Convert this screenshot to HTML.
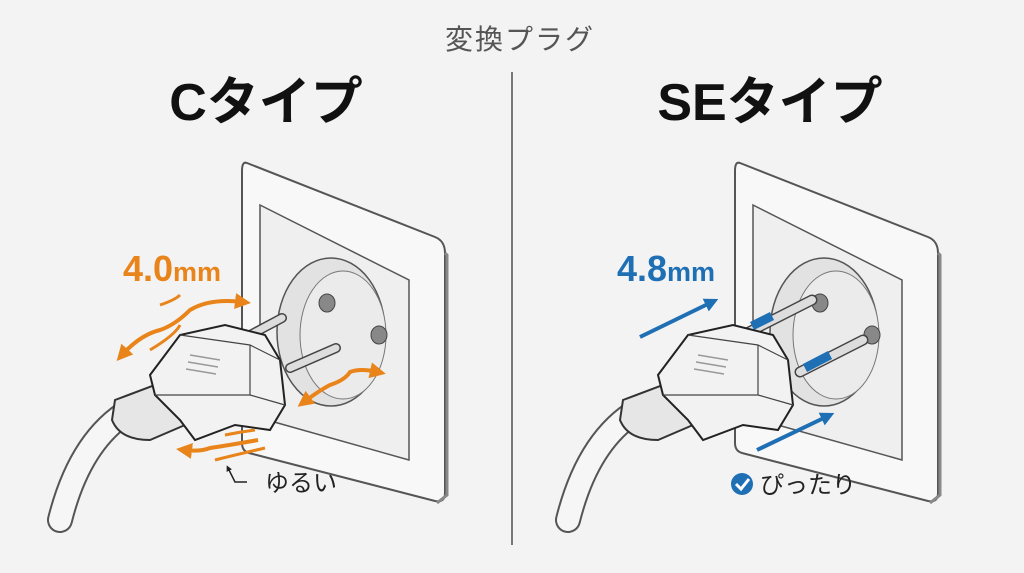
<!DOCTYPE html>
<html><head><meta charset="utf-8"><style>
html,body{margin:0;padding:0;background:#f3f3f3;}
svg{display:block}
text{font-family:"Liberation Sans","Noto Sans CJK JP",sans-serif;}
</style></head><body>
<svg width="1024" height="573" viewBox="0 0 1024 573" xmlns="http://www.w3.org/2000/svg">
<defs>
<marker id="ao" viewBox="0 0 10 10" refX="5" refY="5" markerWidth="4" markerHeight="4" orient="auto-start-reverse"><path d="M0,0L10,5L0,10z" fill="#e8841a"/></marker>
<marker id="ab" viewBox="0 0 10 10" refX="5" refY="5" markerWidth="3.5" markerHeight="3.5" orient="auto"><path d="M0,0L10,5L0,10z" fill="#1f6fb5"/></marker>
<marker id="ak" viewBox="0 0 10 10" refX="5" refY="5" markerWidth="4" markerHeight="4" orient="auto"><path d="M0,0L10,5L0,10z" fill="#222"/></marker>
<g id="socket">
<path d="M0,0 L188,74 Q198,78 198,90 L198,330 Q198,340 188,338 L2,290 Q-5,288 -5,280 L-5,8 Q-5,-2 0,0z" fill="#f8f8f8" stroke="#555" stroke-width="2"/>
<path d="M198,90 L200,92 L200,332 L190,340" fill="none" stroke="#888" stroke-width="3"/>
<path d="M13,42 L162,117 L162,297 L13,255z" fill="#efefef" stroke="#555" stroke-width="1.5"/>
<ellipse cx="84" cy="169" rx="54" ry="74" fill="#e2e2e2" stroke="#555" stroke-width="1.5"/>
<ellipse cx="96" cy="172" rx="43" ry="64" fill="#ebebeb" stroke="#777" stroke-width="1"/>
<ellipse cx="80" cy="140" rx="8" ry="9" fill="#888" stroke="#444"/>
<ellipse cx="132" cy="172" rx="8" ry="9" fill="#888" stroke="#444"/>
</g>
<g id="plug">
<path d="M-80,370 Q-60,290 -10,260" fill="none" stroke="#555" stroke-width="26" stroke-linecap="round"/>
<path d="M-80,370 Q-60,290 -10,260" fill="none" stroke="#f6f6f6" stroke-width="22" stroke-linecap="round"/>
<path d="M-25,250 L15,235 L45,275 L10,290 Q-20,290 -28,270z" fill="#e6e6e6" stroke="#333" stroke-width="2"/>
<path d="M10,225 L40,185 L85,175 L125,185 L140,210 L145,255 L130,280 L95,275 L55,290 L40,270 L15,245z" fill="#f2f2f2" stroke="#222" stroke-width="2"/>
<path d="M40,185 L110,195 L140,210 M15,245 L110,245 L145,255 M110,195 L110,245" fill="none" stroke="#444" stroke-width="1.2"/>
<path d="M50,205 L80,210 M48,212 L78,217 M46,219 L76,224" stroke="#999" stroke-width="1.5"/>
</g>
</defs>

<text x="520" y="49" text-anchor="middle" font-size="28" fill="#555" letter-spacing="2">変換プラグ</text>
<line x1="512" y1="72" x2="512" y2="545" stroke="#777" stroke-width="2"/>
<text x="266" y="120" text-anchor="middle" font-size="52" font-weight="bold" fill="#111">Cタイプ</text>
<text x="770" y="120" text-anchor="middle" font-size="52" font-weight="bold" fill="#111">SEタイプ</text>

<!-- left -->
<use href="#socket" x="247" y="163"/>
<line x1="252" y1="334" x2="282" y2="318" stroke="#444" stroke-width="10" stroke-linecap="round"/>
<line x1="252" y1="334" x2="282" y2="318" stroke="#ddd" stroke-width="7" stroke-linecap="round"/>
<line x1="290" y1="368" x2="336" y2="348" stroke="#444" stroke-width="10" stroke-linecap="round"/>
<line x1="290" y1="368" x2="336" y2="348" stroke="#ddd" stroke-width="7" stroke-linecap="round"/>
<use href="#plug" x="140" y="150"/>
<text x="123" y="281" font-size="36" font-weight="bold" fill="#e8841a">4.0<tspan font-size="27">mm</tspan></text>
<path d="M122,355 Q140,335 160,330 Q175,325 190,310 Q210,298 243,302" fill="none" stroke="#e8841a" stroke-width="4" marker-start="url(#ao)" marker-end="url(#ao)"/>
<path d="M150,350 Q175,335 180,325 M160,305 Q175,300 180,295" fill="none" stroke="#e8841a" stroke-width="3"/>
<path d="M304,402 Q320,390 330,385 Q345,380 350,372 Q360,368 378,372" fill="none" stroke="#e8841a" stroke-width="4" marker-start="url(#ao)" marker-end="url(#ao)"/>
<path d="M258,440 Q230,445 210,448 Q200,452 184,450" fill="none" stroke="#e8841a" stroke-width="4" marker-end="url(#ao)"/>
<path d="M215,460 Q235,455 265,448 M225,435 Q240,432 255,430" fill="none" stroke="#e8841a" stroke-width="3"/>
<path d="M247,482 L235,482 L228,468" fill="none" stroke="#222" stroke-width="1.5" marker-end="url(#ak)"/>
<text x="265" y="491" font-size="24" fill="#222">ゆるい</text>

<!-- right -->
<use href="#socket" x="740" y="163"/>
<line x1="745" y1="334" x2="812" y2="300" stroke="#444" stroke-width="11" stroke-linecap="round"/>
<line x1="745" y1="334" x2="812" y2="300" stroke="#ddd" stroke-width="8" stroke-linecap="round"/>
<line x1="752" y1="326" x2="772" y2="316" stroke="#1f6fb5" stroke-width="9"/>
<line x1="800" y1="372" x2="863" y2="340" stroke="#444" stroke-width="11" stroke-linecap="round"/>
<line x1="800" y1="372" x2="863" y2="340" stroke="#ddd" stroke-width="8" stroke-linecap="round"/>
<line x1="805" y1="368" x2="830" y2="355" stroke="#1f6fb5" stroke-width="9"/>
<use href="#plug" x="648" y="150"/>
<text x="617" y="281" font-size="36" font-weight="bold" fill="#1f6fb5">4.8<tspan font-size="27">mm</tspan></text>
<line x1="640" y1="337" x2="712" y2="302" stroke="#1f6fb5" stroke-width="4" marker-end="url(#ab)"/>
<line x1="757" y1="450" x2="828" y2="416" stroke="#1f6fb5" stroke-width="4" marker-end="url(#ab)"/>
<circle cx="742" cy="484" r="11" fill="#1f6fb5"/>
<path d="M736,484 L741,489 L749,479" fill="none" stroke="#fff" stroke-width="3"/>
<text x="760" y="493" font-size="24" fill="#222">ぴったり</text>
</svg>
</body></html>
